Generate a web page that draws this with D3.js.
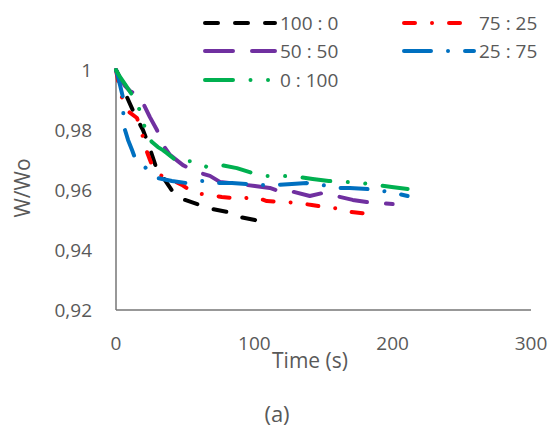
<html>
  <meta charset="utf-8">
  <head>
  <style>
    body {
      margin: 0;
      background: #fff;
    }
    svg text {
      font-family: 'Open Sans', sans-serif;
      fill: #595959;
    }
  </style>
  </head>
  <body>
    <svg id="target" width="554" height="432"></svg>

    <script src="https://d3js.org/d3.v7.min.js"></script>
    <script>

    'use strict';

    var labels = ['100 : 0', '75 : 25', '50 : 50', '25 : 75', '0 : 100'];
    var colors = ['#000000', '#ff0000', '#7030a0', '#0070c0', '#00b050'];
    var dashes = ['13 17', '11 17 0.01 17', '28 19', '27 17 0.01 17', '28 17.5 0.01 17.5 0.01 17.5'];

    var xTicks = [0, 100, 200, 300];
    var yTicks = [0.92, 0.94, 0.96, 0.98, 1];

    // time (s) and W/Wo
    var t_100_0 = [0, 2.9, 7.2, 13.7, 19.5, 23.1, 26, 29.6, 33.9, 41.2, 49.8, 60.6, 69.3, 80.1, 89.5, 100.4, 109.7];
    var w_100_0 = [1, 0.9973, 0.9917, 0.985, 0.98, 0.9757, 0.9717, 0.9667, 0.9643, 0.9593, 0.9567, 0.955, 0.9537, 0.9527, 0.951, 0.95, 0.9477];

    var t_75_25 = [0, 1.4, 3.6, 6.5, 9.4, 15.2, 19.5, 22.4, 26, 31.8, 40.4, 47.7, 56.3, 67.9, 76.5, 88.8, 100.4, 109, 120.6, 131.4, 141.5, 150.9, 163.2, 169, 184.1];
    var w_75_25 = [1, 0.9967, 0.9917, 0.9883, 0.986, 0.984, 0.9777, 0.9727, 0.9683, 0.965, 0.9633, 0.9617, 0.959, 0.9583, 0.9577, 0.957, 0.9577, 0.9563, 0.956, 0.9557, 0.955, 0.9543, 0.9537, 0.9527, 0.952];

    var t_50_50 = [0, 2.9, 6.5, 10.1, 13, 17.3, 19.5, 24.5, 29.6, 33.9, 39, 48.4, 58.5, 67.9, 75.1, 89.5, 100.4, 111.2, 119.9, 125.6, 140.1, 149.5, 161.7, 171.1, 181.2, 200];
    var w_50_50 = [1, 0.9973, 0.9947, 0.993, 0.9923, 0.991, 0.989, 0.9843, 0.98, 0.975, 0.9717, 0.9683, 0.966, 0.9647, 0.9627, 0.962, 0.9613, 0.9607, 0.9593, 0.9597, 0.958, 0.959, 0.9577, 0.9567, 0.956, 0.9553];

    var t_25_75 = [0, 1.4, 2.9, 5.1, 5.3, 6.5, 8.7, 11.6, 13.7, 21.7, 30.3, 40.4, 51.3, 62.8, 73.6, 83.8, 94.6, 104.7, 116.2, 127.1, 137.9, 148.7, 160.3, 169, 181.9, 192.8, 204.3, 210.8];
    var w_25_75 = [1, 0.9977, 0.995, 0.9907, 0.9853, 0.98, 0.9767, 0.9733, 0.9707, 0.9673, 0.964, 0.963, 0.9623, 0.963, 0.9623, 0.9623, 0.962, 0.9617, 0.9617, 0.962, 0.9623, 0.9617, 0.9607, 0.9607, 0.9603, 0.9597, 0.9587, 0.958];

    var t_0_100 = [0, 2.9, 6.5, 11.6, 15.9, 19.5, 23.1, 26, 30.3, 33.9, 36.8, 44.8, 55.6, 65.7, 76.5, 87.4, 98.2, 109, 120.6, 132.9, 142.2, 153.8, 166.1, 177.6, 188.4, 199.3, 210.8];
    var w_0_100 = [1, 0.9977, 0.9953, 0.9917, 0.9883, 0.9827, 0.9777, 0.976, 0.9743, 0.9733, 0.9723, 0.9693, 0.9697, 0.9677, 0.9683, 0.9673, 0.9657, 0.9647, 0.9647, 0.9643, 0.9637, 0.963, 0.9627, 0.9623, 0.9617, 0.961, 0.9603];

    var times = [t_100_0, t_75_25, t_50_50, t_25_75, t_0_100];
    var weights = [w_100_0, w_75_25, w_50_50, w_25_75, w_0_100];

    var series = labels.map(function (l, i) {
      return {
        label: l,
        color: colors[i],
        dash: dashes[i],
        values: times[i].map(function (t, j) { return [t, weights[i][j]]; })
      };
    });

    var svg = d3.select('#target');

    var x = d3.scaleLinear().domain([0, 300]).range([116, 531]);
    var y = d3.scaleLinear().domain([0.92, 1]).range([310, 70]);

    var comma = d3.formatLocale({decimal: ',', thousands: '.', grouping: [3], currency: ['', '']}).format('~g');

    // axes
    svg.append('line')
      .attr('x1', x(0)).attr('x2', x(0))
      .attr('y1', y(1)).attr('y2', y(0.92))
      .attr('stroke', '#767676').attr('stroke-width', 1.5);
    svg.append('line')
      .attr('x1', x(0)).attr('x2', x(300))
      .attr('y1', y(0.92)).attr('y2', y(0.92))
      .attr('stroke', '#767676').attr('stroke-width', 1.5);

    svg.selectAll('text.ytick').data(yTicks).enter().append('text')
      .attr('class', 'ytick')
      .attr('x', 92)
      .attr('y', function (d) { return y(d) + 7; })
      .attr('text-anchor', 'end')
      .style('font-size', '19px')
      .text(comma);

    svg.selectAll('text.xtick').data(xTicks).enter().append('text')
      .attr('class', 'xtick')
      .attr('x', function (d) { return x(d); })
      .attr('y', 350)
      .attr('text-anchor', 'middle')
      .style('font-size', '19px')
      .text(function (d) { return d; });

    svg.append('text')
      .attr('transform', 'translate(30,188) rotate(-90)')
      .attr('text-anchor', 'middle')
      .style('font-size', '21px')
      .text('W/Wo');

    svg.append('text')
      .attr('x', 310).attr('y', 368)
      .attr('text-anchor', 'middle')
      .style('font-size', '21px')
      .text('Time (s)');

    svg.append('text')
      .attr('x', 277).attr('y', 422)
      .attr('text-anchor', 'middle')
      .style('font-size', '22px')
      .text('(a)');

    // series
    var line = d3.line()
      .x(function (d) { return x(d[0]); })
      .y(function (d) { return y(d[1]); });

    svg.selectAll('path.series').data(series).enter().append('path')
      .attr('class', 'series')
      .attr('d', function (d) { return line(d.values); })
      .attr('fill', 'none')
      .attr('stroke', function (d) { return d.color; })
      .attr('stroke-width', 4)
      .attr('stroke-linecap', 'round')
      .attr('stroke-linejoin', 'round')
      .attr('stroke-dasharray', function (d) { return d.dash; });

    // legend: two columns, left 100:0, 50:50, 0:100, right 75:25, 25:75
    var legendPos = [[203, 23], [402, 23], [203, 51], [402, 51], [203, 80]];
    var lg = svg.selectAll('g.legend').data(series).enter().append('g')
      .attr('class', 'legend')
      .attr('transform', function (d, i) { return 'translate(' + legendPos[i][0] + ',' + legendPos[i][1] + ')'; });

    lg.append('line')
      .attr('x1', 2).attr('x2', 72)
      .attr('y1', 0).attr('y2', 0)
      .attr('stroke', function (d) { return d.color; })
      .attr('stroke-width', 4)
      .attr('stroke-linecap', 'round')
      .attr('stroke-dasharray', function (d) { return d.dash; });

    lg.append('text')
      .attr('x', 77)
      .attr('y', 7)
      .style('font-size', '19px')
      .text(function (d) { return d.label; });

    </script>
  </body>
</html>
